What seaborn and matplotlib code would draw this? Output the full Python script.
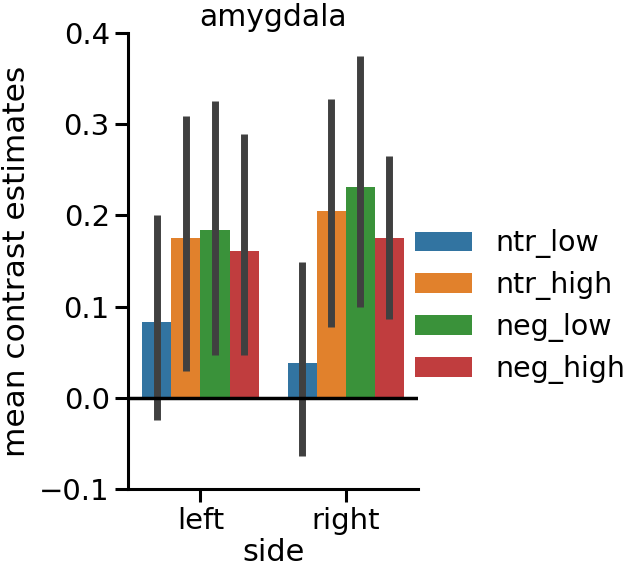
import matplotlib
matplotlib.use("Agg")
import matplotlib.pyplot as plt
import pandas as pd
import seaborn as sns

# значения
sides = ["left", "right"]
conditions = ["ntr_low", "ntr_high", "neg_low", "neg_high"]
means = {
    "left": [0.083, 0.175, 0.184, 0.161],
    "right": [0.038, 0.205, 0.231, 0.175],
}
ci_low = {
    "left": [-0.024, 0.029, 0.047, 0.047],
    "right": [-0.064, 0.078, 0.100, 0.086],
}
ci_high = {
    "left": [0.201, 0.309, 0.326, 0.289],
    "right": [0.149, 0.328, 0.375, 0.265],
}

# длинная таблица: медиана = среднее, размах = интервал
rows = []
for s in sides:
    for i, c in enumerate(conditions):
        for v in (ci_low[s][i], means[s][i], ci_high[s][i]):
            rows.append({"side": s, "condition": c, "value": v})
df = pd.DataFrame(rows)

sns.set_theme(style="ticks", palette="tab10")
plt.rcParams["font.family"] = ["DejaVu Sans"]
plt.rcParams.update({
    "text.color": "black", "axes.labelcolor": "black",
    "xtick.color": "black", "ytick.color": "black",
    "axes.edgecolor": "black",
})

fig, ax = plt.subplots(figsize=(6.3, 5.7), dpi=100)
fig.subplots_adjust(left=0.203, right=0.664, top=0.942, bottom=0.142)

sns.barplot(
    data=df, x="side", y="value", hue="condition", order=sides,
    hue_order=conditions, estimator="median", errorbar=("pi", 100),
    palette="tab10", linewidth=0,
    err_kws={"linewidth": 5, "color": "#404040", "solid_capstyle": "butt"},
    ax=ax,
)
ax.axhline(0, color="black", linewidth=2.5)

ax.set_ylim(-0.1, 0.4)
ax.set_yticks([-0.1, 0.0, 0.1, 0.2, 0.3, 0.4])
ax.set_title("amygdala", fontsize=21.5, pad=5)
ax.set_xlabel("side", fontsize=22, labelpad=2)
ax.set_ylabel("mean contrast estimates", fontsize=22.5, labelpad=6)
ax.tick_params(labelsize=21, width=2.2, length=9.5)
for sp in ["left", "bottom"]:
    ax.spines[sp].set_linewidth(2.2)
sns.despine(ax=ax)

ax.legend(loc="center left", bbox_to_anchor=(0.99, 0.40), frameon=False,
          fontsize=20.5, borderaxespad=0, borderpad=0, handlelength=2.0,
          handletextpad=0.8, labelspacing=0.45)

fig.savefig("out.png")
